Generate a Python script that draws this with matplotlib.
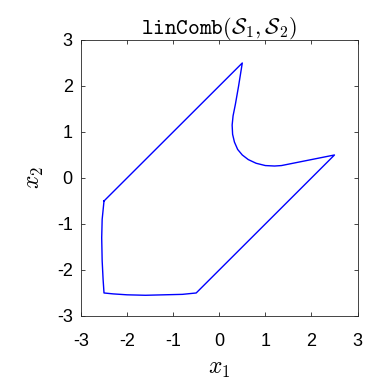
import matplotlib
matplotlib.use('Agg')
import matplotlib.pyplot as plt

# Boundary of the linear combination set (closed polygon)
xBound = [-2.5, 0.5, 0.42, 0.35, 0.30, 0.28, 0.29, 0.33, 0.40, 0.50, 0.63, 0.80, 1.00, 1.20, 1.35,
          2.5, -0.5, -0.8, -1.2, -1.6, -2.0, -2.3, -2.5,
          -2.52, -2.54, -2.55, -2.54, -2.52, -2.5]
yBound = [-0.5, 2.5, 2.00, 1.60, 1.35, 1.15, 0.95, 0.78, 0.62, 0.50, 0.40, 0.32, 0.27, 0.26, 0.27,
          0.5, -2.5, -2.53, -2.54, -2.55, -2.54, -2.52, -2.5,
          -2.2, -1.8, -1.3, -0.9, -0.7, -0.5]
xTicks = [-3, -2, -1, 0, 1, 2, 3]
yTicks = [-3, -2, -1, 0, 1, 2, 3]

plt.rcParams['font.family'] = ['Liberation Sans', 'DejaVu Sans']
plt.rcParams['mathtext.fontset'] = 'cm'

fig = plt.figure(figsize=(3.68, 3.83), dpi=100)
ax = fig.add_axes([0.220, 0.175, 0.7515, 0.7206])
ax.plot(xBound, yBound, color=(0, 0, 1), linewidth=1.0)
ax.set_xlim(-3, 3)
ax.set_ylim(-3, 3)
ax.set_xticks(xTicks)
ax.set_yticks(yTicks)
ax.set_xticklabels([str(t) for t in xTicks])
ax.set_yticklabels([str(t) for t in yTicks])
ax.tick_params(direction='in', top=True, right=True, labelsize=13, length=3,
               width=0.6, color='#262626')
ax.tick_params(axis='x', pad=12)
ax.tick_params(axis='y', pad=6)
for s in ax.spines.values():
    s.set_linewidth(0.6)
    s.set_color('#262626')
ax.set_xlabel(r'$x_1$', fontsize=17, labelpad=6)
ax.set_ylabel(r'$x_2$', fontsize=17, labelpad=8)
ax.set_title(r'$\mathtt{linComb}(\mathcal{S}_1,\mathcal{S}_2)$', fontsize=16, pad=4)

fig.savefig('out.png', dpi=100)
